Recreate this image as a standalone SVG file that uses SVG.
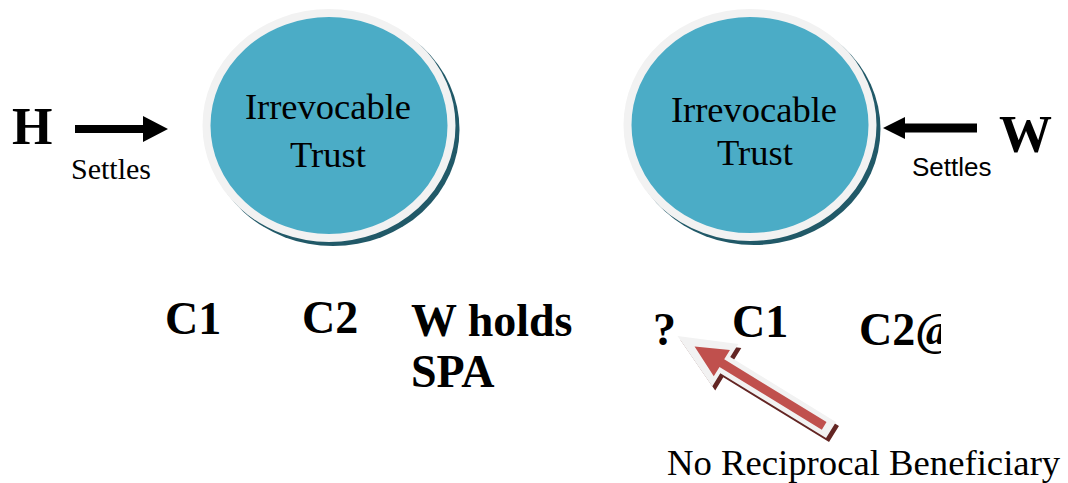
<svg xmlns="http://www.w3.org/2000/svg" width="1068" height="483" viewBox="0 0 1068 483">
  <style>
    .trust-shadow { fill: #215968; }
    .trust { fill: #4bacc6; stroke: #f2f2f2; stroke-width: 8; }
    .trust-label { font-family: "Liberation Serif", "Times New Roman", serif; font-size: 36.5px; fill: #000; text-anchor: middle; }
    .party { font-family: "Liberation Serif", "Times New Roman", serif; font-weight: bold; fill: #000; }
    .bene { font-family: "Liberation Serif", "Times New Roman", serif; font-weight: bold; font-size: 46px; fill: #000; }
    .settles-serif { font-family: "Liberation Serif", "Times New Roman", serif; font-size: 30px; fill: #000; }
    .settles-sans { font-family: "Liberation Sans", Arial, sans-serif; font-size: 26px; fill: #000; }
    .note { font-family: "Liberation Serif", "Times New Roman", serif; font-size: 36.7px; fill: #000; }
    .settle-arrow { fill: #000; }
    .callout-shadow { fill: #632523; }
    .callout-outline { fill: #f2f2f2; }
    .callout-fill { fill: #c0504d; }
  </style>
  <defs>
    <clipPath id="clip-c2">
      <rect x="0" y="0" width="941" height="483"/>
    </clipPath>
    <polygon id="callout-outer" points="-180,0 -124,-25 -124,-9.5 0,-9.5 0,9.5 -124,9.5 -124,25"/>
  </defs>

  <rect x="0" y="0" width="1068" height="483" fill="#ffffff"/>

  <!-- Husband's trust -->
  <g id="trust-h">
    <ellipse class="trust-shadow" cx="333" cy="129.5" rx="126.5" ry="116.5"/>
    <ellipse class="trust" cx="329" cy="125.5" rx="122.5" ry="112.5"/>
    <text class="trust-label" x="328" y="119">Irrevocable</text>
    <text class="trust-label" x="328" y="167">Trust</text>
  </g>

  <!-- Wife's trust -->
  <g id="trust-w">
    <ellipse class="trust-shadow" cx="754" cy="129" rx="126.5" ry="116"/>
    <ellipse class="trust" cx="750" cy="125" rx="122.5" ry="112"/>
    <text class="trust-label" x="754" y="122">Irrevocable</text>
    <text class="trust-label" x="755" y="165">Trust</text>
  </g>

  <g id="settlor-h">
    <text class="party" x="12" y="144" font-size="52">H</text>
    <text class="settles-serif" x="71" y="179">Settles</text>
  </g>

  <g id="settlor-w">
    <text class="party" x="999" y="152" font-size="53">W</text>
    <text class="settles-sans" x="912" y="176">Settles</text>
  </g>

  <g id="beneficiaries-h">
    <text class="bene" x="165" y="334">C1</text>
    <text class="bene" x="302" y="333">C2</text>
    <text class="bene" x="411" y="336" font-size="48">W holds</text>
    <text class="bene" x="411" y="387" font-size="48">SPA</text>
  </g>

  <g id="beneficiaries-w">
    <text class="bene" x="653" y="345">?</text>
    <text class="bene" x="732" y="337">C1</text>
    <text class="bene" x="859" y="345" font-size="48" clip-path="url(#clip-c2)">C2@</text>
  </g>

  <g id="callout-note">
    <text class="note" x="667" y="475">No Reciprocal Beneficiary</text>
  </g>

  <g id="connectors">
    <!-- H settles its trust -->
    <polygon class="settle-arrow" points="75,125 143,125 143,116 168,129 143,142 143,133 75,133"/>
    <!-- W settles its trust -->
    <polygon class="settle-arrow" points="977,123.5 905,123.5 905,117 883,128 905,139 905,132.5 977,132.5"/>
    <!-- block arrow pointing at the missing reciprocal beneficiary -->
    <g transform="translate(834,434) rotate(31.5)">
      <use href="#callout-outer" class="callout-shadow"/>
    </g>
    <g transform="translate(831,430) rotate(31.5)">
      <use href="#callout-outer" class="callout-outline"/>
      <polygon class="callout-fill" points="-160,0 -128,-15.5 -128,-4.5 -8,-4.5 -8,4.5 -128,4.5 -128,15.5"/>
    </g>
  </g>
</svg>
